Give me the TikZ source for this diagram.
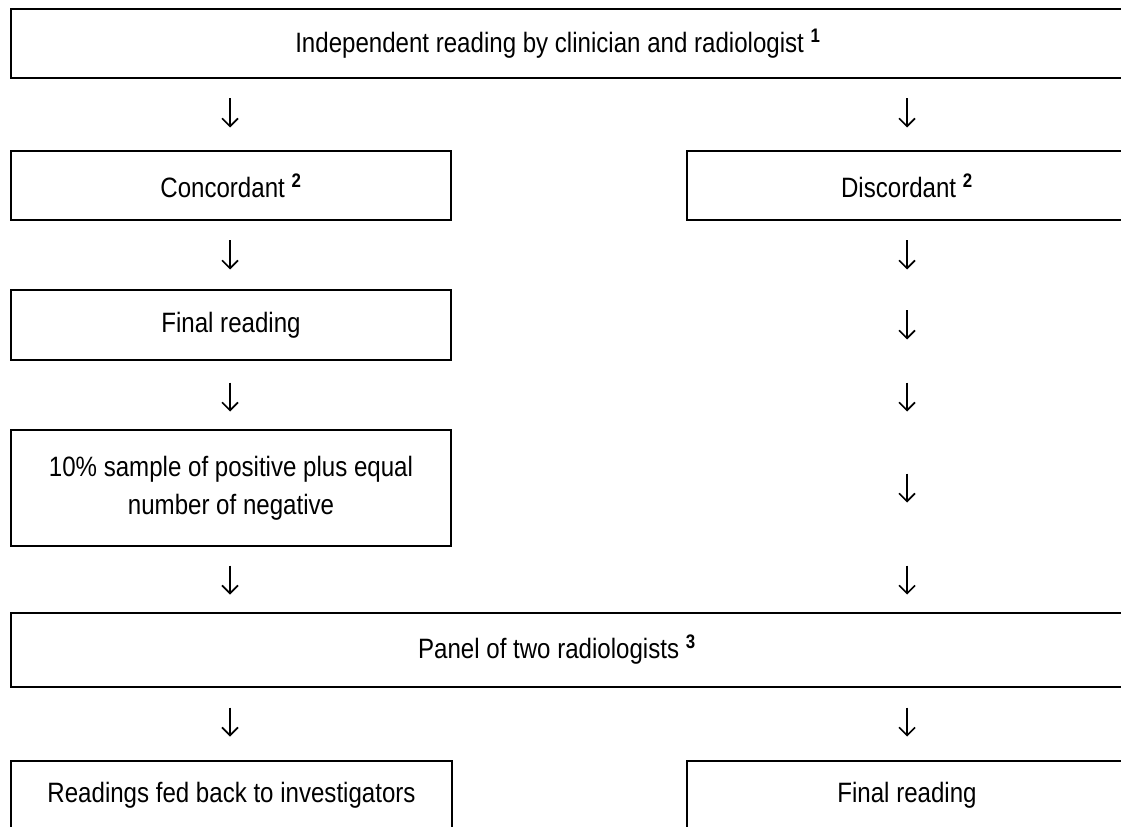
\documentclass[tikz,border=0pt]{standalone}
\usepackage{fontspec}
\setmainfont{Liberation Sans}[FakeStretch=0.86]
\usetikzlibrary{arrows.meta,calc}
\newcommand\fnmark[1]{ \textsuperscript{\textbf{#1}}}
\tikzset{
  box/.style={draw, line width=1.5pt, inner sep=0pt, minimum height=51.75pt,
    align=center, font=\fontsize{21}{28.5}\selectfont},
  lbox/.style={box, minimum width=330pt},
  rbox/.style={box, minimum width=330pt},
  wbox/.style={box, minimum width=839.25pt},
  lbl/.style={inner sep=0pt, font=\fontsize{21}{28.5}\selectfont},
  down/.style={line width=0.8pt, -{Straight Barb[length=6pt, width=12pt, line width=1.2pt]}}
}
\newcommand\dnarrow[2]{%
  \coordinate (#1s) at ($(#2)+(0,-14.5)$);
  \coordinate (#1e) at ($(#2)+(0,14.5)$);
  \draw[down] (#1s) -- (#1e);}
\begin{document}
\begin{tikzpicture}[x=0.75pt,y=-0.75pt]
  \clip (0,0) rectangle (1121,827);
  \fill[white] (0,0) rectangle (1121,827);
  % row 1
  \node[wbox] (top) at (570.5,43.5) {};
  \node[lbl] (toptxt) at (558,44) {Independent reading by clinician and radiologist\fnmark{1}};
  \coordinate (c1l) at (230,113); \coordinate (c1r) at (907,113);
  \dnarrow{a1l}{c1l} \dnarrow{a1r}{c1r}
  % row 2
  \node[lbox] (conc) at (231,185.5) {Concordant\fnmark{2}};
  \node[rbox] (disc) at (907,185.5) {Discordant\fnmark{2}};
  \coordinate (c2l) at (230,255); \coordinate (c2r) at (907,255);
  \dnarrow{a2l}{c2l} \dnarrow{a2r}{c2r}
  % row 3
  \node[lbox, minimum height=52.5pt] (fin1) at (231,325) {Final reading};
  \coordinate (c3r) at (907,325);
  \dnarrow{a3r}{c3r}
  \coordinate (c4l) at (230,397); \coordinate (c4r) at (907,397);
  \dnarrow{a4l}{c4l} \dnarrow{a4r}{c4r}
  % row 4
  \node[lbox, minimum height=87pt] (samp) at (231,488) {10\% sample of positive plus equal\\number of negative};
  \coordinate (c5r) at (907,488);
  \dnarrow{a5r}{c5r}
  \coordinate (c6l) at (230,580); \coordinate (c6r) at (907,580);
  \dnarrow{a6l}{c6l} \dnarrow{a6r}{c6r}
  % row 5
  \node[wbox, minimum height=55.5pt] (panel) at (570.5,650) {};
  \node[lbl] (paneltxt) at (557,650) {Panel of two radiologists\fnmark{3}};
  \coordinate (c7l) at (230,722); \coordinate (c7r) at (907,722);
  \dnarrow{a7l}{c7l} \dnarrow{a7r}{c7r}
  % row 6
  \node[box, minimum width=330.75pt] (fed) at (231.5,795.5) {Readings fed back to investigators};
  \node[rbox] (fin2) at (907,795.5) {Final reading};
\end{tikzpicture}
\end{document}
